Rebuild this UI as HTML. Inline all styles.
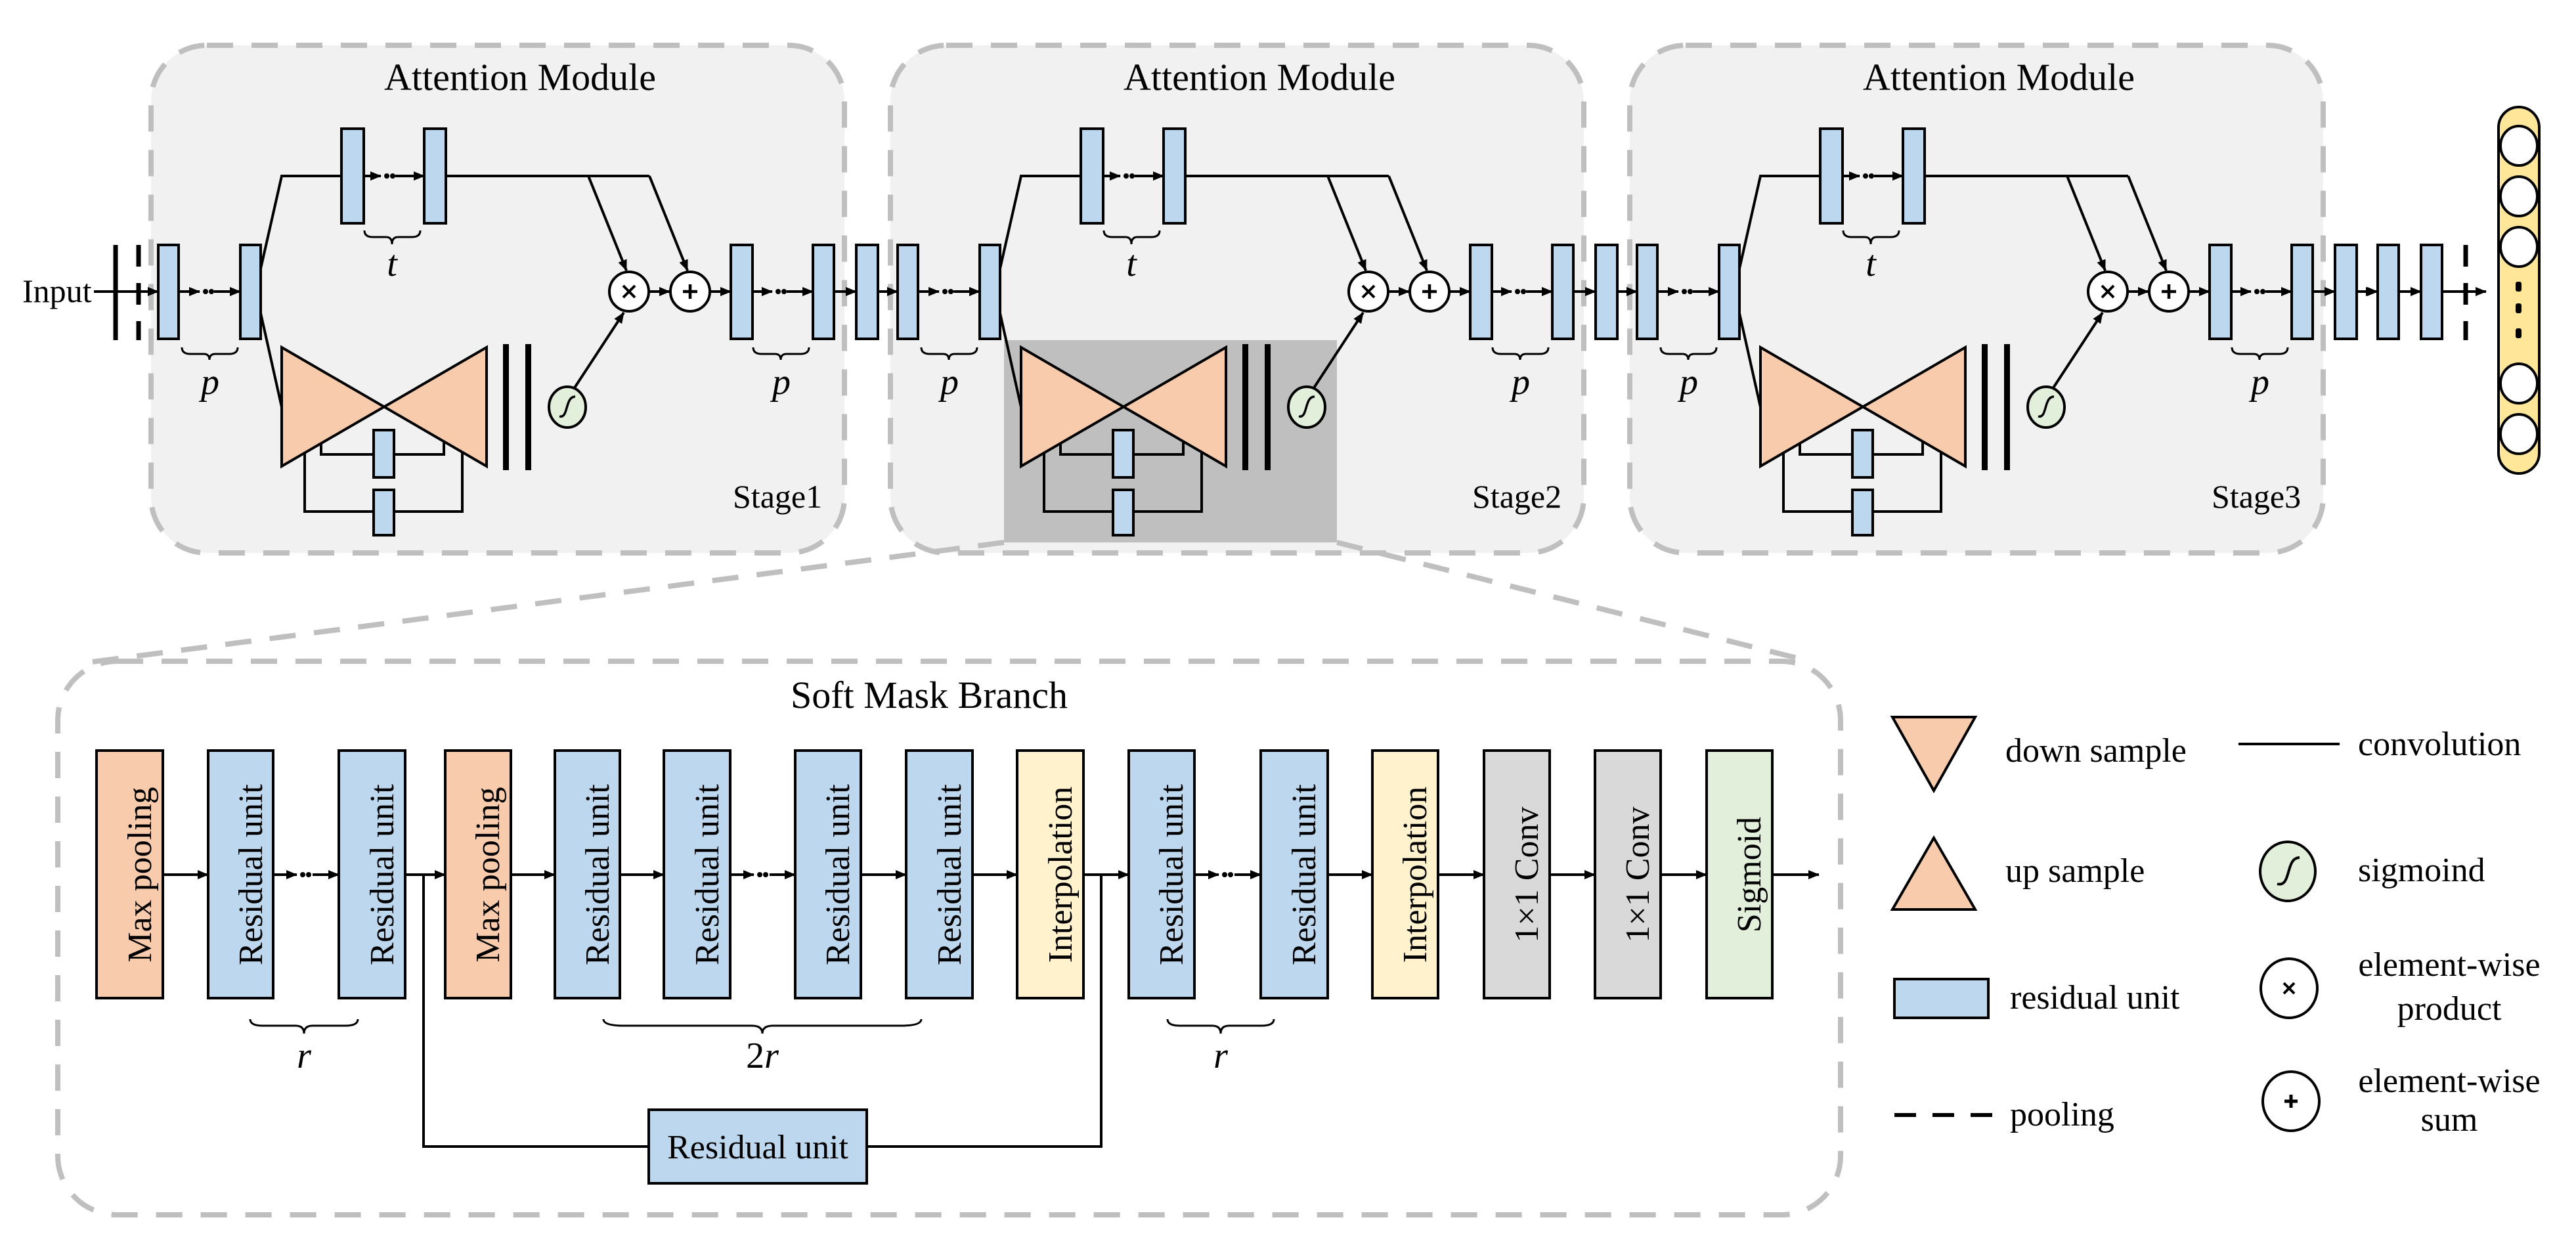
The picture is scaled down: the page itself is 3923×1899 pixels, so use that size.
<!DOCTYPE html>
<html><head><meta charset="utf-8"><style>
html,body{margin:0;padding:0;background:#fff}
svg{display:block}
svg text{font-family:"Liberation Serif","Times New Roman","DejaVu Serif",serif;fill:#000}
</style></head><body>
<svg width="3923" height="1899" viewBox="0 0 3923 1899" xmlns="http://www.w3.org/2000/svg" font-family="Liberation Serif, Times New Roman, DejaVu Serif, serif">
<defs>
<marker id="ah" markerWidth="18" markerHeight="14" refX="16" refY="7" orient="auto" markerUnits="userSpaceOnUse"><path d="M0,0 L17,7 L0,14 z" fill="#000"/></marker>
<g id="dots"><circle cx="0" cy="0" r="4"/><circle cx="9" cy="0" r="4"/></g>
<g id="stg" stroke="#000" stroke-width="4">
  <g fill="#bdd7ee">
    <rect x="241" y="373" width="31" height="143"/>
    <rect x="366" y="373" width="31" height="143"/>
    <rect x="520" y="196" width="34" height="144"/>
    <rect x="646" y="196" width="33" height="144"/>
    <rect x="1113" y="373" width="33" height="143"/>
    <rect x="1238" y="373" width="32" height="143"/>
    <rect x="1304" y="373" width="33" height="143"/>
  </g>
  <line x1="272" y1="444" x2="304" y2="444" marker-end="url(#ah)"/>
  <use href="#dots" x="313" y="444" stroke="none"/>
  <line x1="326" y1="444" x2="366" y2="444" marker-end="url(#ah)"/>
  <line x1="554" y1="268" x2="580" y2="268" marker-end="url(#ah)"/>
  <use href="#dots" x="589" y="268" stroke="none"/>
  <line x1="602" y1="268" x2="646" y2="268" marker-end="url(#ah)"/>
  <line x1="1146" y1="444" x2="1176" y2="444" marker-end="url(#ah)"/>
  <use href="#dots" x="1185" y="444" stroke="none"/>
  <line x1="1198" y1="444" x2="1238" y2="444" marker-end="url(#ah)"/>
  <line x1="1270" y1="444" x2="1304" y2="444" marker-end="url(#ah)"/>
  <line x1="1337" y1="444" x2="1367" y2="444" marker-end="url(#ah)"/>
  <polyline points="397,409 429,268 520,268" fill="none"/>
  <line x1="679" y1="268" x2="989" y2="268"/>
  <line x1="896" y1="268" x2="954" y2="412" marker-end="url(#ah)"/>
  <line x1="989" y1="268" x2="1047" y2="412" marker-end="url(#ah)"/>
  <line x1="988" y1="444" x2="1020" y2="444" marker-end="url(#ah)"/>
  <line x1="1081" y1="444" x2="1113" y2="444" marker-end="url(#ah)"/>
  <line x1="397" y1="477" x2="429" y2="620"/>
  <polygon points="429,529 741,710 741,529 429,710" fill="#f8cbad" stroke-linejoin="miter"/>
  <polyline points="489,675 489,692 676,692 676,672" fill="none"/>
  <polyline points="464,690 464,779 704,779 704,689" fill="none"/>
  <rect x="569" y="655" width="31" height="72" fill="#bdd7ee"/>
  <rect x="569" y="746" width="31" height="69" fill="#bdd7ee"/>
  <rect x="766" y="524" width="9" height="192" fill="#000" stroke="none"/>
  <rect x="800" y="524" width="9" height="192" fill="#000" stroke="none"/>
  <line x1="874" y1="592" x2="950" y2="476" marker-end="url(#ah)"/>
  <ellipse cx="864" cy="620" rx="28" ry="31" fill="#e2efda"/>
  <path d="M852,634 C866,638 860,604 876,604" fill="none" stroke-width="3.5"/>
  <circle cx="958" cy="444" r="30" fill="#fff"/>
  <path d="M949,435 L967,453 M967,435 L949,453" stroke-width="4"/>
  <circle cx="1051" cy="444" r="30" fill="#fff"/>
  <path d="M1051,433 V455 M1040,444 H1062" stroke-width="4.5"/>
  <g fill="none" stroke-width="3">
    <path d="M277,529 Q277,539 290,539 L310,539 Q319,539 319,548 Q319,539 328,539 L349,539 Q362,539 362,529"/>
    <path d="M555,351 Q555,361 568,361 L588,361 Q597,361 597,372 Q597,361 606,361 L627,361 Q640,361 640,351"/>
    <path d="M1147,529 Q1147,539 1160,539 L1180,539 Q1189,539 1189,548 Q1189,539 1198,539 L1219,539 Q1232,539 1232,529"/>
  </g>
  <g stroke="none" font-style="italic" font-size="56" text-anchor="middle">
    <text x="320" y="600">p</text>
    <text x="597" y="420">t</text>
    <text x="1190" y="600">p</text>
  </g>
  <text x="792" y="137" stroke="none" font-size="58" text-anchor="middle">Attention Module</text>
</g>
</defs>

<g fill="#f1f1f1" stroke="#bfbfbf" stroke-width="8" stroke-dasharray="40 28">
  <rect x="230" y="69" width="1056" height="773" rx="85"/>
  <rect x="1356" y="69" width="1056" height="773" rx="85"/>
  <rect x="2482" y="69" width="1056" height="773" rx="85"/>
</g>
<rect x="1529" y="518" width="507" height="308" fill="#bfbfbf"/>
<use href="#stg" x="0" y="0"/>
<use href="#stg" x="1126" y="0"/>
<use href="#stg" x="2252" y="0"/>
<g font-size="50">
  <text x="1116" y="773">Stage1</text>
  <text x="2242" y="773">Stage2</text>
  <text x="3368" y="773">Stage3</text>
</g>

<text x="34" y="460" font-size="50">Input</text>
<g stroke="#000" stroke-width="4">
  <line x1="143" y1="444" x2="241" y2="444" marker-end="url(#ah)"/>
  <line x1="176" y1="373" x2="176" y2="518" stroke-width="7"/>
  <line x1="211" y1="373" x2="211" y2="518" stroke-width="7" stroke-dasharray="33 25"/>
  <rect x="3621" y="373" width="32" height="143" fill="#bdd7ee"/>
  <rect x="3687" y="373" width="32" height="143" fill="#bdd7ee"/>
  <line x1="3589" y1="444" x2="3621" y2="444" marker-end="url(#ah)"/>
  <line x1="3653" y1="444" x2="3687" y2="444" marker-end="url(#ah)"/>
  <line x1="3719" y1="444" x2="3786" y2="444" marker-end="url(#ah)"/>
  <line x1="3755" y1="373" x2="3755" y2="518" stroke-width="7" stroke-dasharray="33 25"/>
  <rect x="3805" y="163" width="62" height="558" rx="31" fill="#ffe699"/>
  <g fill="#fff">
    <ellipse cx="3836" cy="222" rx="28" ry="30"/>
    <ellipse cx="3836" cy="299" rx="28" ry="30"/>
    <ellipse cx="3836" cy="376" rx="28" ry="30"/>
    <ellipse cx="3836" cy="584" rx="28" ry="30"/>
    <ellipse cx="3836" cy="661" rx="28" ry="30"/>
  </g>
  <g stroke="none" fill="#000">
    <rect x="3831" y="429" width="9" height="15" rx="3"/>
    <rect x="3831" y="462" width="9" height="15" rx="3"/>
    <rect x="3831" y="500" width="9" height="15" rx="3"/>
  </g>
</g>

<g stroke="#bfbfbf" stroke-width="8" stroke-dasharray="40 28" fill="none">
  <line x1="1529" y1="826" x2="140" y2="1008"/>
  <line x1="2036" y1="826" x2="2760" y2="1008"/>
</g>
<rect x="88" y="1007" width="2715" height="843" rx="90" fill="#fff" stroke="#bfbfbf" stroke-width="8" stroke-dasharray="40 28"/>
<text x="1415" y="1078" font-size="58" text-anchor="middle">Soft Mask Branch</text>

<g stroke="#000" stroke-width="4">
  <g fill="#f8cbad"><rect x="147" y="1143" width="101" height="377"/><rect x="678" y="1143" width="100" height="377"/></g>
  <g fill="#bdd7ee">
    <rect x="317" y="1143" width="99" height="377"/>
    <rect x="516" y="1143" width="101" height="377"/>
    <rect x="845" y="1143" width="99" height="377"/>
    <rect x="1011" y="1143" width="101" height="377"/>
    <rect x="1211" y="1143" width="100" height="377"/>
    <rect x="1380" y="1143" width="101" height="377"/>
    <rect x="1719" y="1143" width="100" height="377"/>
    <rect x="1920" y="1143" width="102" height="377"/>
    <rect x="988" y="1690" width="332" height="112"/>
  </g>
  <g fill="#fff2cc"><rect x="1549" y="1143" width="101" height="377"/><rect x="2090" y="1143" width="100" height="377"/></g>
  <g fill="#d9d9d9"><rect x="2260" y="1143" width="100" height="377"/><rect x="2429" y="1143" width="100" height="377"/></g>
  <rect x="2599" y="1143" width="100" height="377" fill="#e2efda"/>
  <line x1="248" y1="1332" x2="317" y2="1332" marker-end="url(#ah)"/>
  <line x1="416" y1="1332" x2="452" y2="1332" marker-end="url(#ah)"/>
  <use href="#dots" x="461" y="1332" stroke="none"/>
  <line x1="476" y1="1332" x2="516" y2="1332" marker-end="url(#ah)"/>
  <line x1="617" y1="1332" x2="678" y2="1332" marker-end="url(#ah)"/>
  <line x1="778" y1="1332" x2="845" y2="1332" marker-end="url(#ah)"/>
  <line x1="944" y1="1332" x2="1011" y2="1332" marker-end="url(#ah)"/>
  <line x1="1112" y1="1332" x2="1148" y2="1332" marker-end="url(#ah)"/>
  <use href="#dots" x="1157" y="1332" stroke="none"/>
  <line x1="1172" y1="1332" x2="1211" y2="1332" marker-end="url(#ah)"/>
  <line x1="1311" y1="1332" x2="1380" y2="1332" marker-end="url(#ah)"/>
  <line x1="1481" y1="1332" x2="1549" y2="1332" marker-end="url(#ah)"/>
  <line x1="1650" y1="1332" x2="1719" y2="1332" marker-end="url(#ah)"/>
  <line x1="1819" y1="1332" x2="1856" y2="1332" marker-end="url(#ah)"/>
  <use href="#dots" x="1865" y="1332" stroke="none"/>
  <line x1="1880" y1="1332" x2="1920" y2="1332" marker-end="url(#ah)"/>
  <line x1="2022" y1="1332" x2="2090" y2="1332" marker-end="url(#ah)"/>
  <line x1="2190" y1="1332" x2="2260" y2="1332" marker-end="url(#ah)"/>
  <line x1="2360" y1="1332" x2="2429" y2="1332" marker-end="url(#ah)"/>
  <line x1="2529" y1="1332" x2="2599" y2="1332" marker-end="url(#ah)"/>
  <line x1="2699" y1="1332" x2="2770" y2="1332" marker-end="url(#ah)"/>
  <polyline points="645,1332 645,1746 988,1746" fill="none"/>
  <polyline points="1320,1746 1677,1746 1677,1332" fill="none"/>
  <g fill="none" stroke-width="3">
    <path d="M381,1552 Q381,1562 400,1562 L450,1562 Q463,1562 463,1574 Q463,1562 476,1562 L526,1562 Q545,1562 545,1552"/>
    <path d="M919,1552 Q919,1562 950,1562 L1145,1562 Q1161,1562 1161,1574 Q1161,1562 1177,1562 L1372,1562 Q1403,1562 1403,1552"/>
    <path d="M1778,1552 Q1778,1562 1797,1562 L1846,1562 Q1859,1562 1859,1574 Q1859,1562 1872,1562 L1921,1562 Q1940,1562 1940,1552"/>
  </g>
</g>
<g font-size="56" font-style="italic" text-anchor="middle">
  <text x="463" y="1626">r</text>
  <text x="1161" y="1626"><tspan font-style="normal">2</tspan>r</text>
  <text x="1859" y="1626">r</text>
</g>
<g font-size="52" text-anchor="middle">
  <text transform="translate(230,1332) rotate(-90)">Max pooling</text>
  <text transform="translate(399,1332) rotate(-90)">Residual unit</text>
  <text transform="translate(599,1332) rotate(-90)">Residual unit</text>
  <text transform="translate(760,1332) rotate(-90)">Max pooling</text>
  <text transform="translate(927,1332) rotate(-90)">Residual unit</text>
  <text transform="translate(1094,1332) rotate(-90)">Residual unit</text>
  <text transform="translate(1293,1332) rotate(-90)">Residual unit</text>
  <text transform="translate(1463,1332) rotate(-90)">Residual unit</text>
  <text transform="translate(1632,1332) rotate(-90)">Interpolation</text>
  <text transform="translate(1801,1332) rotate(-90)">Residual unit</text>
  <text transform="translate(2003,1332) rotate(-90)">Residual unit</text>
  <text transform="translate(2172,1332) rotate(-90)">Interpolation</text>
  <text transform="translate(2342,1332) rotate(-90)">1×1 Conv</text>
  <text transform="translate(2511,1332) rotate(-90)">1×1 Conv</text>
  <text transform="translate(2681,1332) rotate(-90)">Sigmoid</text>
  <text x="1154" y="1764">Residual unit</text>
</g>

<g stroke="#000" stroke-width="4">
  <polygon points="2882,1092 3008,1092 2945,1204" fill="#f8cbad"/>
  <polygon points="2945,1276 2882,1385 3008,1385" fill="#f8cbad"/>
  <rect x="2885" y="1491" width="143" height="59" fill="#bdd7ee"/>
  <line x1="2885" y1="1698" x2="3036" y2="1698" stroke-dasharray="33 25" stroke-width="6"/>
  <line x1="3409" y1="1133" x2="3563" y2="1133"/>
  <ellipse cx="3484" cy="1327" rx="42" ry="45" fill="#e2efda"/>
  <path d="M3468,1346 C3490,1352 3480,1306 3502,1306" fill="none"/>
  <ellipse cx="3486" cy="1505" rx="43" ry="45" fill="#fff"/>
  <path d="M3478,1497 L3494,1513 M3494,1497 L3478,1513"/>
  <ellipse cx="3489" cy="1677" rx="43" ry="45" fill="#fff"/>
  <path d="M3489,1667 V1687 M3479,1677 H3499" stroke-width="5"/>
</g>
<g font-size="52">
  <text x="3054" y="1160">down sample</text>
  <text x="3054" y="1343">up sample</text>
  <text x="3061" y="1536">residual unit</text>
  <text x="3061" y="1714">pooling</text>
  <text x="3591" y="1150">convolution</text>
  <text x="3591" y="1342">sigmoind</text>
  <text x="3730" y="1486" text-anchor="middle">element-wise</text>
  <text x="3730" y="1553" text-anchor="middle">product</text>
  <text x="3730" y="1663" text-anchor="middle">element-wise</text>
  <text x="3730" y="1722" text-anchor="middle">sum</text>
</g>
</svg>
</body></html>
